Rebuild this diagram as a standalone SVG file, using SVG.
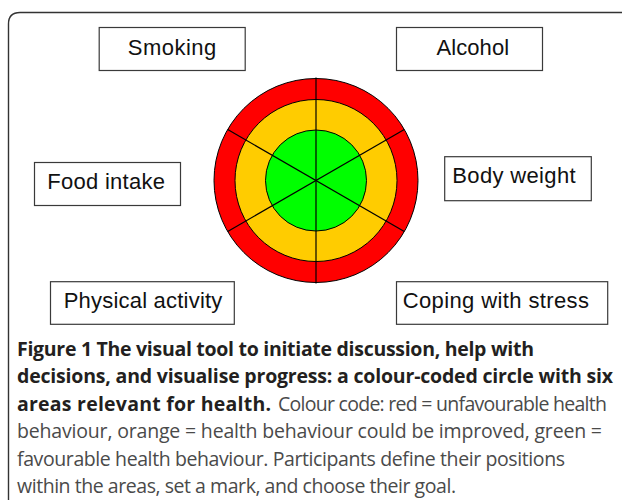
<svg xmlns="http://www.w3.org/2000/svg" width="622" height="500" viewBox="0 0 622 500">
<style>
.box{fill:#fff;stroke:#3a3a3a;stroke-width:1.2}
.lbl{font-family:"Liberation Sans",Arial,sans-serif;font-size:22px;fill:#111}
.ring{stroke:#000;stroke-width:1}
.spoke{stroke:#000;stroke-width:1.2}
.cap{font-family:"Open Sans","Noto Sans",sans-serif;font-size:19.5px}
.b{font-weight:bold;fill:#231f20}
.n{fill:#4a4a4a}
</style>
<rect width="622" height="500" fill="#fff"/>
<path d="M8.5,500 V24 Q8.5,12.5 20,12.5 H622" fill="none" stroke="#333" stroke-width="1.4"/>
<g id="wheel">
<circle class="ring" cx="316" cy="180.5" r="102" fill="#ff0000"/>
<circle class="ring" cx="316" cy="180.5" r="81" fill="#ffcc00"/>
<circle class="ring" cx="316" cy="180.5" r="50.5" fill="#00ff00"/>
</g>
<g id="connectors">
<line class="spoke" x1="316" y1="77.5" x2="316" y2="283.5"/>
<line class="spoke" x1="227.7" y1="129.5" x2="404.3" y2="231.5"/>
<line class="spoke" x1="227.7" y1="231.5" x2="404.3" y2="129.5"/>
</g>
<g id="smoking"><rect class="box" x="99.2" y="27.5" width="146" height="43"/><text class="lbl" x="127.8" y="54.5" textLength="88.5">Smoking</text></g>
<g id="alcohol"><rect class="box" x="396.5" y="27.5" width="146" height="43"/><text class="lbl" x="436.5" y="54.5" textLength="72.6">Alcohol</text></g>
<g id="food"><rect class="box" x="34.5" y="162.5" width="146" height="43"/><text class="lbl" x="47.3" y="189.3" textLength="117.7">Food intake</text></g>
<g id="body"><rect class="box" x="444.7" y="156.7" width="146.6" height="44"/><text class="lbl" x="452.3" y="183" textLength="123.3">Body weight</text></g>
<g id="physical"><rect class="box" x="50.5" y="281.7" width="183.8" height="42.6"/><text class="lbl" x="63.7" y="307.5" textLength="158.6">Physical activity</text></g>
<g id="coping"><rect class="box" x="396.5" y="281.7" width="211.2" height="42.6"/><text class="lbl" x="402.7" y="307.5" textLength="186.3">Coping with stress</text></g>
<g id="caption">
<text class="cap b" x="17" y="355.5" textLength="517">Figure 1 The visual tool to initiate discussion, help with</text>
<text class="cap b" x="17" y="383" textLength="596">decisions, and visualise progress: a colour-coded circle with six</text>
<text class="cap b" x="17" y="410.5" textLength="254">areas relevant for health.</text>
<text class="cap n" x="278" y="410.5" textLength="329">Colour code: red = unfavourable health</text>
<text class="cap n" x="17" y="438" textLength="585">behaviour, orange = health behaviour could be improved, green =</text>
<text class="cap n" x="17" y="465.5" textLength="548">favourable health behaviour. Participants define their positions</text>
<text class="cap n" x="17" y="493" textLength="439">within the areas, set a mark, and choose their goal.</text>
</g>
</svg>
